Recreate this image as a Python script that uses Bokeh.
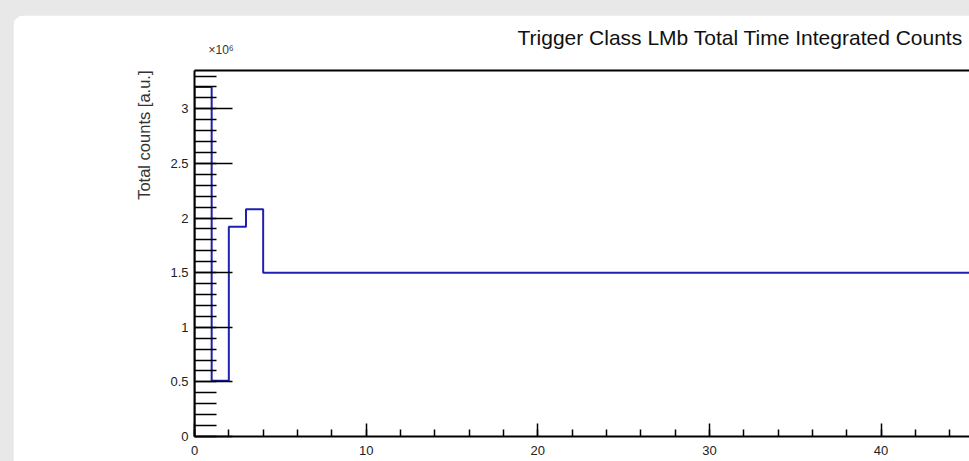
from bokeh.plotting import figure
from bokeh.models import (Range1d, FixedTicker, LinearAxis, Title,
                          GlobalInlineStyleSheet, CustomJSTickFormatter)
from bokeh.embed import file_html
from bokeh.resources import INLINE

# ---- data ----
bin_edges = [0, 1, 2, 3, 4, 46]
counts = [3.20e6, 0.51e6, 1.92e6, 2.08e6, 1.50e6]

x_major = [0, 10, 20, 30, 40]
x_minor = list(range(0, 46, 2))
y_major = [0, 0.5e6, 1.0e6, 1.5e6, 2.0e6, 2.5e6, 3.0e6]
y_minor = [i * 1e5 for i in range(0, 34)]

title_text = "Trigger Class LMb Total Time Integrated Counts"
y_title = "Total counts [a.u.]"
y_exp = "\u00d710\u2076"

# ---- figure ----
p = figure(width=956, height=446,
           x_range=Range1d(0, 45.15), y_range=Range1d(0, 3.351e6),
           output_backend="svg", toolbar_location=None,
           min_border_left=181, min_border_right=0,
           min_border_top=55, min_border_bottom=25,
           margin=(15, 0, 0, 13),
           border_fill_color="white", background_fill_color="white",
           outline_line_color=None,
           styles={"border-radius": "12px 0 0 0", "overflow": "hidden"},
           stylesheets=[GlobalInlineStyleSheet(
               css="html, body { background-color: #e8e8e8; }")])
p.xgrid.visible = False
p.ygrid.visible = False

# title
p.title.text = title_text
p.title.text_font = "Liberation Sans"
p.title.text_font_size = "21px"
p.title.text_font_style = "normal"
p.title.text_color = "#111111"
p.title.align = "left"
p.title.offset = 323
p.title.standoff = -18

# step outline of histogram
xs, ys = [bin_edges[0]], [0]
for i, c in enumerate(counts):
    xs += [bin_edges[i], bin_edges[i + 1]]
    ys += [c, c]
p.line(xs, ys, line_color="#2020b0", line_width=2)

# x axis
xa = p.xaxis[0]
xa.ticker = FixedTicker(ticks=x_major, minor_ticks=x_minor)
xa.major_tick_in = 13
xa.major_tick_out = 0
xa.minor_tick_in = 7
xa.minor_tick_out = 0
xa.axis_line_width = 2
xa.major_tick_line_width = 1.5
xa.minor_tick_line_width = 1.5
xa.major_label_text_font = "Liberation Sans"
xa.major_label_text_font_size = "13px"
xa.major_label_text_color = "#222222"
xa.major_label_standoff = 9

# y axis
ya = p.yaxis[0]
ya.ticker = FixedTicker(ticks=y_major, minor_ticks=y_minor)
ya.formatter = CustomJSTickFormatter(code="return (tick/1e6).toString();")
ya.major_tick_in = 38
ya.major_tick_out = 0
ya.minor_tick_in = 22
ya.minor_tick_out = 0
ya.axis_line_width = 2
ya.major_tick_line_width = 1.5
ya.minor_tick_line_width = 1.5
ya.major_label_text_font = "Liberation Sans"
ya.major_label_text_font_size = "13px"
ya.major_label_text_color = "#222222"
ya.major_label_standoff = 6

# y axis title, aligned to the top end of the axis
p.add_layout(Title(text=y_title, align="right",
                   text_font="Liberation Sans", text_font_size="16.5px",
                   text_font_style="normal", text_color="#333333",
                   standoff=29), "left")

# top frame line carrying the exponent label
top = LinearAxis(ticker=FixedTicker(ticks=[]),
                 major_tick_line_color=None, minor_tick_line_color=None,
                 axis_line_width=2, major_label_standoff=0,
                 axis_label="\u00a0" * 16 + y_exp, axis_label_align="start",
                 axis_label_text_font="Liberation Sans",
                 axis_label_text_font_size="12px",
                 axis_label_text_font_style="normal",
                 axis_label_text_color="#333333",
                 axis_label_standoff=14)
p.add_layout(top, "above")

open("out.html", "w").write(file_html(p, INLINE))
